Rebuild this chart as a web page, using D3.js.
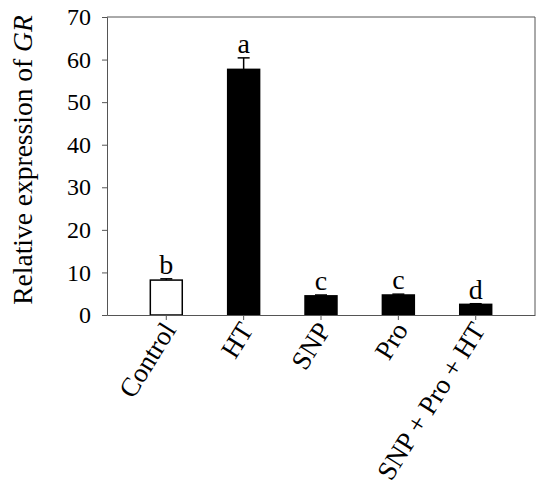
<!DOCTYPE html>
<html>
<head>
<meta charset="utf-8">
<title>Relative expression of GR</title>
<script src="https://cdn.jsdelivr.net/npm/d3@7"></script>
<style>
  body { margin: 0; background: #fff; }
  text { font-family: "Liberation Serif", "Times New Roman", serif; }
</style>
</head>
<body>
<script>
var categories = ["Control", "HT", "SNP", "Pro", "SNP + Pro + HT"];
var means = [8.2, 57.7, 4.5, 4.7, 2.5];
var errors = [0.3, 2.7, 0.2, 0.2, 0.15];
var letters = ["b", "a", "c", "c", "d"];
var yTicks = [0, 10, 20, 30, 40, 50, 60, 70];

var width = 550, height = 504;
var margin = { top: 17, right: 15, bottom: 189, left: 107 };

var svg = d3.select("body").append("svg")
    .attr("width", width)
    .attr("height", height);

var g = svg.append("g")
    .attr("transform", "translate(" + margin.left + "," + margin.top + ")");

var w = width - margin.left - margin.right,
    h = height - margin.top - margin.bottom;

var x = d3.scaleBand()
    .domain(categories)
    .range([0, w])
    .paddingInner(0.587)
    .paddingOuter(0.56);

var y = d3.scaleLinear()
    .domain([0, 70])
    .range([h, 0]);

var data = categories.map(function (c, i) {
    return { cat: c, mean: means[i], err: errors[i], letter: letters[i], ctrl: i === 0 };
});

// frame (top and right)
g.append("path")
    .attr("d", "M0,0H" + w + "V" + h)
    .attr("fill", "none")
    .attr("stroke", "#555")
    .attr("stroke-width", 1);

// bars
g.selectAll("rect.bar")
    .data(data)
    .enter().append("rect")
    .attr("class", "bar")
    .attr("x", function (d) { return x(d.cat); })
    .attr("width", x.bandwidth())
    .attr("y", function (d) { return y(d.mean); })
    .attr("height", function (d) { return h - y(d.mean); })
    .attr("fill", function (d) { return d.ctrl ? "#fff" : "#000"; })
    .attr("stroke", "#000")
    .attr("stroke-width", 1.5);

// error bars (upper only)
var cap = 6;
var eb = g.selectAll("g.err")
    .data(data)
    .enter().append("g")
    .attr("class", "err")
    .attr("stroke", "#000")
    .attr("stroke-width", 1.5);
eb.append("line")
    .attr("x1", function (d) { return x(d.cat) + x.bandwidth() / 2; })
    .attr("x2", function (d) { return x(d.cat) + x.bandwidth() / 2; })
    .attr("y1", function (d) { return y(d.mean); })
    .attr("y2", function (d) { return y(d.mean + d.err); });
eb.append("line")
    .attr("x1", function (d) { return x(d.cat) + x.bandwidth() / 2 - cap; })
    .attr("x2", function (d) { return x(d.cat) + x.bandwidth() / 2 + cap; })
    .attr("y1", function (d) { return y(d.mean + d.err); })
    .attr("y2", function (d) { return y(d.mean + d.err); });

// significance letters
g.selectAll("text.letter")
    .data(data)
    .enter().append("text")
    .attr("class", "letter")
    .attr("x", function (d) { return x(d.cat) + x.bandwidth() / 2; })
    .attr("y", function (d) { return y(d.mean + d.err) - 5; })
    .attr("text-anchor", "middle")
    .style("font-size", "28px")
    .text(function (d) { return d.letter; });

// y axis
var yAxis = g.append("g")
    .call(d3.axisLeft(y).tickValues(yTicks).tickSize(5).tickPadding(11));
yAxis.selectAll("text")
    .style("font-size", "24px")
    .style("font-family", "Liberation Serif, serif")
    .attr("fill", "#000");
yAxis.selectAll("line, path").attr("stroke", "#555");

// x axis
var xAxis = g.append("g")
    .attr("transform", "translate(0," + h + ")")
    .call(d3.axisBottom(x).tickSize(5).tickSizeOuter(0).tickPadding(4));
xAxis.selectAll("line, path").attr("stroke", "#555");
xAxis.selectAll("text")
    .style("font-size", "27px")
    .style("font-family", "Liberation Serif, serif")
    .attr("fill", "#000")
    .attr("text-anchor", "end")
    .attr("dy", "0.35em")
    .attr("transform", "translate(-5,5) rotate(-58)");

// y label
svg.append("text")
    .attr("transform", "translate(32,160) rotate(-90)")
    .attr("text-anchor", "middle")
    .style("font-size", "27.5px")
    .html("Relative expression of <tspan font-style='italic'>GR</tspan>");
</script>
</body>
</html>
